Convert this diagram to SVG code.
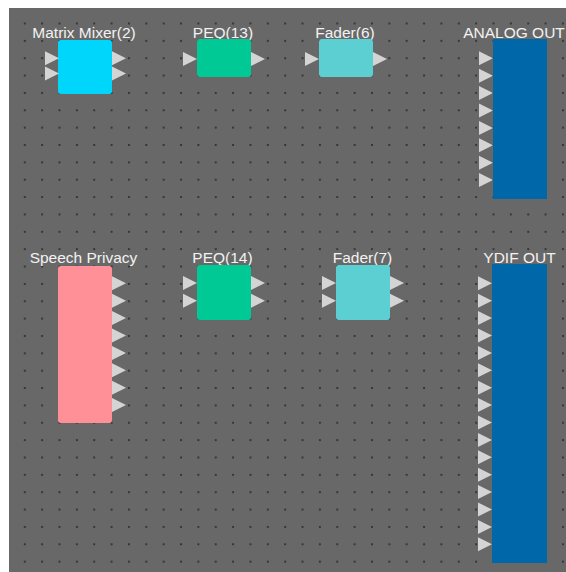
<svg xmlns="http://www.w3.org/2000/svg" xmlns:xlink="http://www.w3.org/1999/xlink" width="566" height="572" viewBox="0 0 566 572">
<defs>
<pattern id="grid" patternUnits="userSpaceOnUse" x="23.8" y="22.5" width="17.36" height="17.36">
<rect x="0" y="0" width="2" height="2" fill="#363636"/>
</pattern>
<path id="pin" d="M0,-7 L14,0 L0,7 Z"/>
</defs>
<style>
.lbl{font-family:"Liberation Sans",Arial,sans-serif;font-size:15.5px;fill:#f2f2f2;text-anchor:middle}
.pin{fill:#d4d4d4}
</style>
<rect x="0" y="0" width="566" height="572" fill="#ffffff"/>
<rect x="9" y="8" width="557" height="564" fill="#686868"/>
<rect x="9" y="8" width="557" height="564" fill="url(#grid)"/>
<g id="connectors"/>
<g id="matrix-mixer">
<text class="lbl" x="84" y="37.5">Matrix Mixer(2)</text>
<rect x="58" y="40" width="54" height="54" rx="3" fill="#00d6fb"/>
<use xlink:href="#pin" class="pin" x="45" y="58.3"/>
<use xlink:href="#pin" class="pin" x="45" y="73.5"/>
<use xlink:href="#pin" class="pin" x="112" y="58.3"/>
<use xlink:href="#pin" class="pin" x="112" y="73.5"/>
</g>
<g id="peq13">
<text class="lbl" x="223" y="37.5">PEQ(13)</text>
<rect x="197" y="39" width="54" height="38" rx="3" fill="#00c996"/>
<use xlink:href="#pin" class="pin" x="183" y="59"/>
<use xlink:href="#pin" class="pin" x="251" y="59"/>
</g>
<g id="fader6">
<text class="lbl" x="345" y="37.5">Fader(6)</text>
<rect x="319" y="39" width="54" height="38" rx="3" fill="#5ccfd3"/>
<use xlink:href="#pin" class="pin" x="305" y="59"/>
<use xlink:href="#pin" class="pin" x="373" y="59"/>
</g>
<g id="analog-out">
<text class="lbl" x="514" y="37.5">ANALOG OUT</text>
<rect x="493" y="39" width="54" height="160" fill="#0067a9"/>
<use xlink:href="#pin" class="pin" x="479" y="58.3"/>
<use xlink:href="#pin" class="pin" x="479" y="75.7"/>
<use xlink:href="#pin" class="pin" x="479" y="93.1"/>
<use xlink:href="#pin" class="pin" x="479" y="110.5"/>
<use xlink:href="#pin" class="pin" x="479" y="127.9"/>
<use xlink:href="#pin" class="pin" x="479" y="145.3"/>
<use xlink:href="#pin" class="pin" x="479" y="162.7"/>
<use xlink:href="#pin" class="pin" x="479" y="180.1"/>
</g>
<g id="speech-privacy">
<text class="lbl" x="83.5" y="262.5">Speech Privacy</text>
<rect x="58" y="266" width="54" height="157" rx="3" fill="#ff9097"/>
<use xlink:href="#pin" class="pin" x="112" y="283.3"/>
<use xlink:href="#pin" class="pin" x="112" y="300.7"/>
<use xlink:href="#pin" class="pin" x="112" y="318.1"/>
<use xlink:href="#pin" class="pin" x="112" y="335.5"/>
<use xlink:href="#pin" class="pin" x="112" y="352.9"/>
<use xlink:href="#pin" class="pin" x="112" y="370.3"/>
<use xlink:href="#pin" class="pin" x="112" y="387.7"/>
<use xlink:href="#pin" class="pin" x="112" y="405.1"/>
</g>
<g id="peq14">
<text class="lbl" x="222.5" y="262.5">PEQ(14)</text>
<rect x="197" y="265" width="54" height="55" rx="3" fill="#00c996"/>
<use xlink:href="#pin" class="pin" x="183" y="283"/>
<use xlink:href="#pin" class="pin" x="183" y="300.7"/>
<use xlink:href="#pin" class="pin" x="251" y="283"/>
<use xlink:href="#pin" class="pin" x="251" y="300.7"/>
</g>
<g id="fader7">
<text class="lbl" x="362.5" y="262.5">Fader(7)</text>
<rect x="336" y="265" width="54" height="55" rx="3" fill="#5ccfd3"/>
<use xlink:href="#pin" class="pin" x="322" y="283"/>
<use xlink:href="#pin" class="pin" x="322" y="300.7"/>
<use xlink:href="#pin" class="pin" x="390" y="283"/>
<use xlink:href="#pin" class="pin" x="390" y="300.7"/>
</g>
<g id="ydif-out">
<text class="lbl" x="519.5" y="262.5">YDIF OUT</text>
<rect x="492" y="264" width="55" height="299" fill="#0067a9"/>
<use xlink:href="#pin" class="pin" x="478" y="283.3"/>
<use xlink:href="#pin" class="pin" x="478" y="300.7"/>
<use xlink:href="#pin" class="pin" x="478" y="318.1"/>
<use xlink:href="#pin" class="pin" x="478" y="335.5"/>
<use xlink:href="#pin" class="pin" x="478" y="352.9"/>
<use xlink:href="#pin" class="pin" x="478" y="370.3"/>
<use xlink:href="#pin" class="pin" x="478" y="387.7"/>
<use xlink:href="#pin" class="pin" x="478" y="405.1"/>
<use xlink:href="#pin" class="pin" x="478" y="422.5"/>
<use xlink:href="#pin" class="pin" x="478" y="439.9"/>
<use xlink:href="#pin" class="pin" x="478" y="457.3"/>
<use xlink:href="#pin" class="pin" x="478" y="474.7"/>
<use xlink:href="#pin" class="pin" x="478" y="492.1"/>
<use xlink:href="#pin" class="pin" x="478" y="509.5"/>
<use xlink:href="#pin" class="pin" x="478" y="526.9"/>
<use xlink:href="#pin" class="pin" x="478" y="544.3"/>
</g>
</svg>
